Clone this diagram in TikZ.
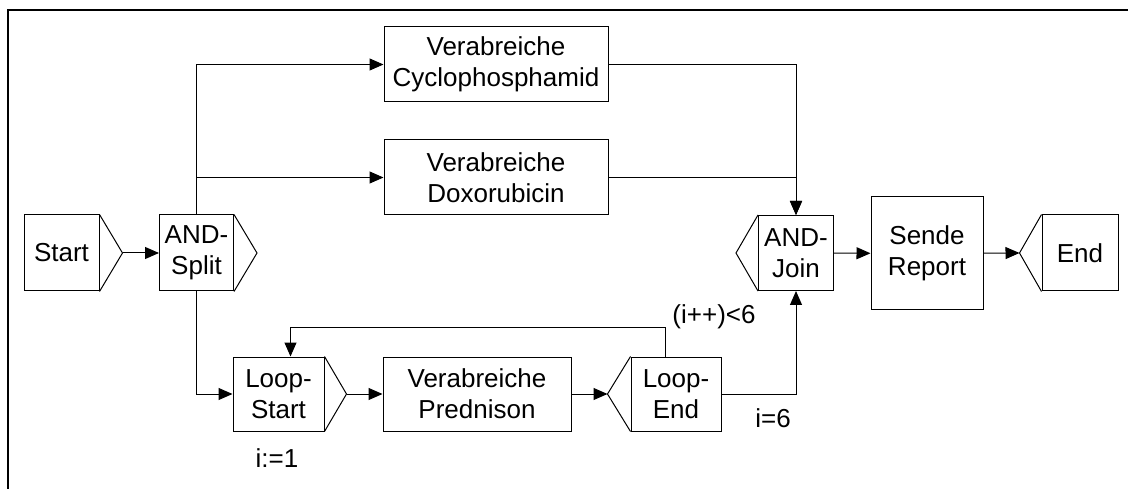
\documentclass[tikz,border=0pt]{standalone}
\usepackage{fontspec}
\setmainfont{Liberation Sans}
\usetikzlibrary{arrows.meta}

\begin{document}
\begin{tikzpicture}[x=1pt,y=-1pt,line width=1pt,
  every node/.style={font=\fontsize{26}{31}\selectfont,align=center,inner sep=0pt},
  box/.style={draw,fill=white},
  >={Triangle[length=14pt,width=12pt]}]
\useasboundingbox (0,0) rectangle (1128,489);
\draw[line width=2.5pt] (8,489) -- (8,10) -- (1128,10);
% boxes
\node[box,minimum width=75pt,minimum height=76pt] (st) at (61.5,253) {Start};
\node[box,minimum width=74pt,minimum height=76pt] (as) at (196.5,253) {AND-\\Split};
\node[box,minimum width=224pt,minimum height=75pt] (cy) at (496,64.5) {Verabreiche\\Cyclophosphamid};
\node[box,minimum width=224pt,minimum height=75pt] (dx) at (496,177.5) {Verabreiche\\Doxorubicin};
\node[box,minimum width=75pt,minimum height=75pt] (aj) at (796,253) {AND-\\Join};
\node[box,minimum width=112pt,minimum height=113pt] (sr) at (927,253.5) {Sende\\Report};
\node[box,minimum width=76pt,minimum height=76pt] (en) at (1080,253) {End};
\node[box,minimum width=91pt,minimum height=74pt] (ls) at (278.5,394) {Loop-\\Start};
\node[box,minimum width=188pt,minimum height=74pt] (pr) at (477,394) {Verabreiche\\Prednison};
\node[box,minimum width=90pt,minimum height=74pt] (le) at (676,394) {Loop-\\End};
% gate tips
\coordinate (st tip) at ([xshift=23pt]st.east);
\coordinate (as tip) at ([xshift=23pt]as.east);
\coordinate (ls tip) at ([xshift=22pt]ls.east);
\coordinate (aj tip) at ([xshift=-22pt]aj.west);
\coordinate (le tip) at ([xshift=-23pt]le.west);
\coordinate (en tip) at ([xshift=-22pt]en.west);
\draw (st.north east) -- (st tip) -- (st.south east);
\draw (as.north east) -- (as tip) -- (as.south east);
\draw (ls.north east) -- (ls tip) -- (ls.south east);
\draw (aj.north west) -- (aj tip) -- (aj.south west);
\draw (le.north west) -- (le tip) -- (le.south west);
\draw (en.north west) -- (en tip) -- (en.south west);
% flow
\draw[->] (st tip) -- (as);
\draw[->] (as.north) |- (cy.west);
\draw[->] (as.north) |- (dx.west);
\draw[->] (cy.east) -| (aj.north);
\draw[->] (dx.east) -| (aj.north);
\draw[->] (as.south) |- (ls.west);
\draw[->] (ls tip) -- (pr);
\draw[->] (pr) -- (le tip);
\draw[->] ([xshift=-11pt]le.north) -- ++(0,-29) -| ([xshift=12pt]ls.north);
\draw[->] (le.east) -| (aj.south);
\draw[->] (aj) -- (sr);
\draw[->] (sr) -- (en tip);
% conditions
\node (c1) at (714,317) {(i++)<6};
\node (c2) at (773,418) {i=6};
\node (c3) at (277,458) {i:=1};
\end{tikzpicture}
\end{document}
